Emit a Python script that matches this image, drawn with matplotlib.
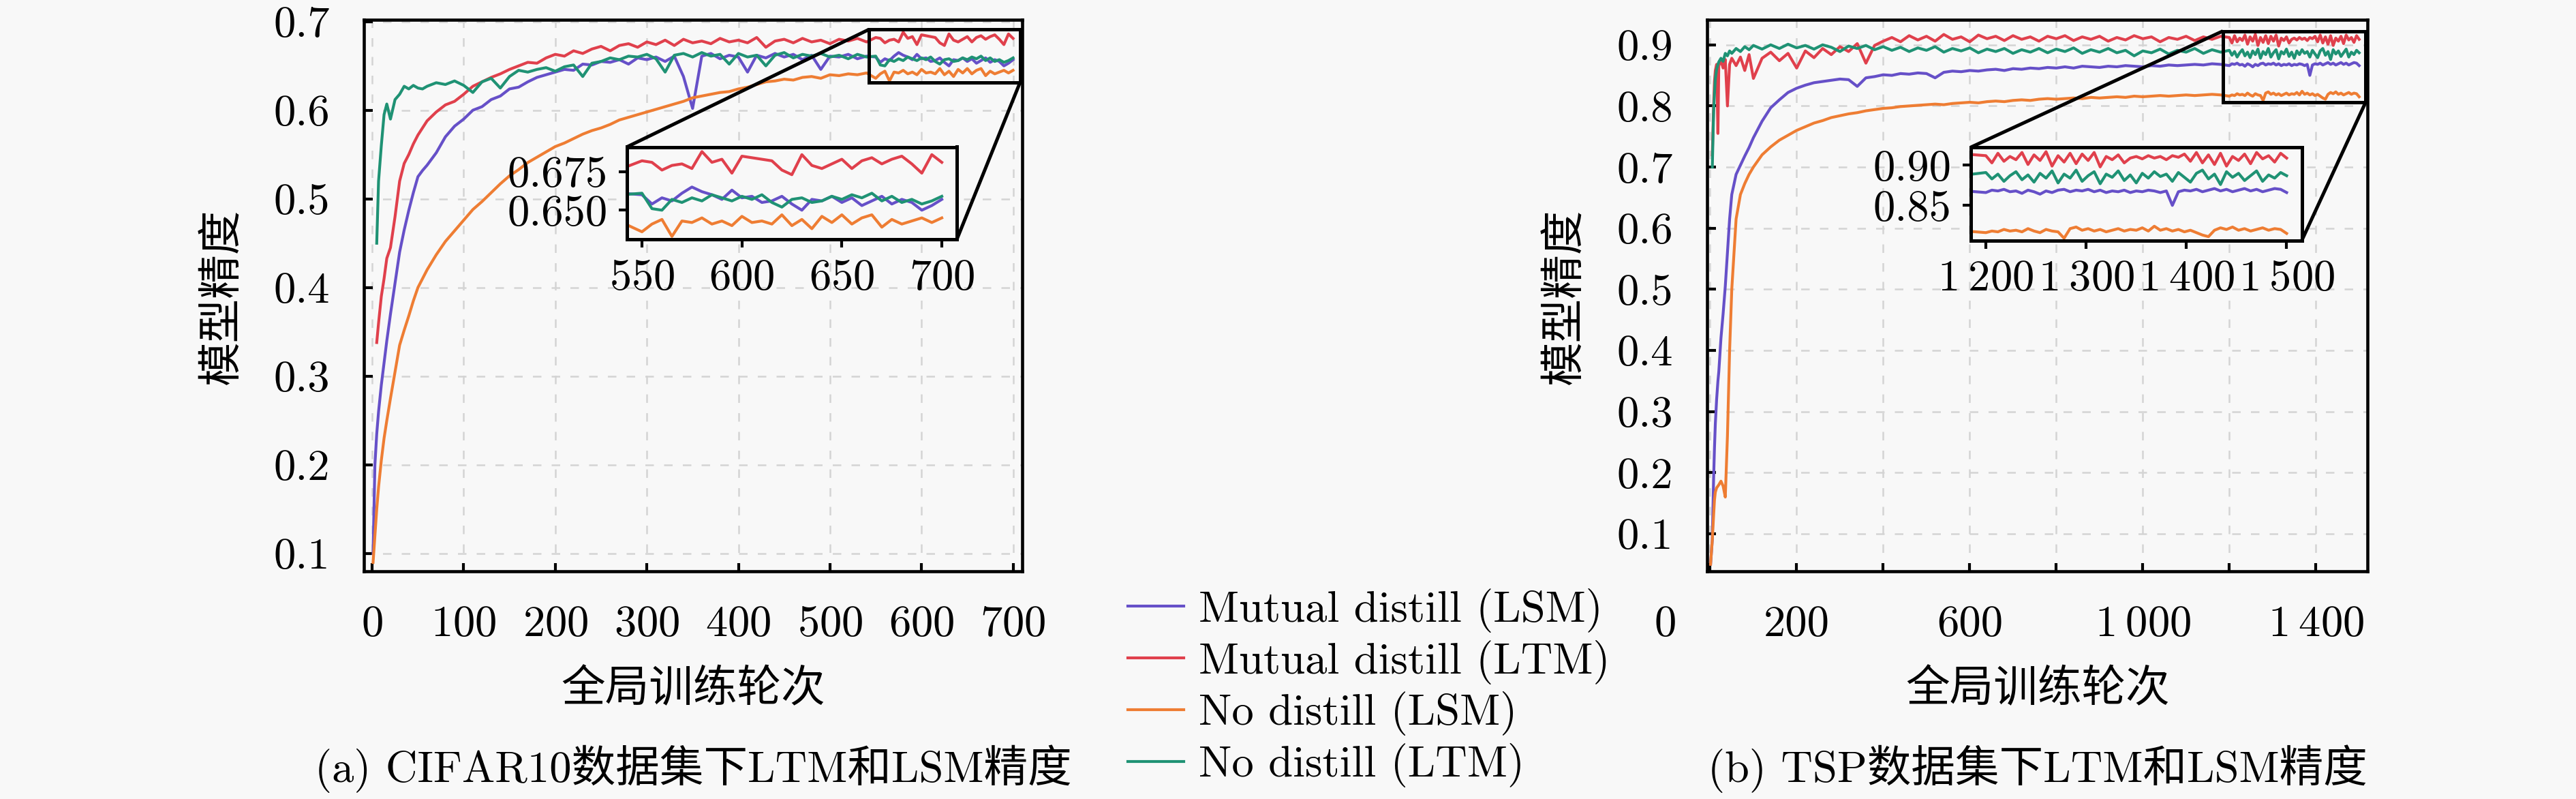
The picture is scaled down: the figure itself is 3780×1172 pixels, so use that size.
import matplotlib
matplotlib.use("Agg")
import matplotlib.pyplot as plt
from matplotlib.transforms import ScaledTranslation
from mpl_toolkits.axes_grid1.inset_locator import mark_inset

nan = float('nan')

plt.rcParams['font.family'] = ['cmr10', 'Noto Sans CJK SC']
plt.rcParams['mathtext.fontset'] = 'cm'
plt.rcParams['axes.formatter.use_mathtext'] = True
plt.rcParams['font.size'] = 15.5

labels = ['Mutual distill (LSM)', 'Mutual distill (LTM)', 'No distill (LSM)', 'No distill (LTM)']
colors = ['#6650c8', '#e0404c', '#ee7d33', '#1f9274']

# (a) CIFAR10
ep_a = [1, 3, 5, 7, 10, 13, 16, 20, 25, 30, 35, 40, 45, 50, 55] + list(range(60, 550, 10)) + list(range(550, 701, 5))

mutual_lsm_a = [0.10, 0.20, 0.235, 0.26, 0.29, 0.315, 0.34, 0.37, 0.405, 0.44, 0.465, 0.487, 0.507, 0.525, 0.532,
                0.538, 0.552, 0.57, 0.582, 0.59, 0.60, 0.604, 0.612, 0.616, 0.624,
                0.626, 0.632, 0.637, 0.64, 0.643, 0.646, 0.645, 0.652, 0.651, 0.655,
                0.654, 0.657, 0.652, 0.659, 0.657, 0.66, 0.655, 0.661, 0.638, 0.602,
                0.661, 0.664, 0.658, 0.662, 0.66, 0.643, 0.662, 0.659, 0.664, 0.66,
                0.663, 0.657, 0.662, 0.646, 0.661, 0.66, 0.663, 0.658, 0.661,
                0.660, 0.654, 0.658, 0.656, 0.661, 0.665, 0.662, 0.660, 0.657, 0.663,
                0.658, 0.659, 0.655, 0.656, 0.659, 0.654, 0.650, 0.657, 0.656, 0.659,
                0.655, 0.658, 0.653, 0.656, 0.659, 0.654, 0.657, 0.655, 0.650, 0.653, 0.657]

mutual_ltm_a = [nan, nan, 0.338, 0.36, 0.39, 0.41, 0.433, 0.445, 0.48, 0.52, 0.54, 0.55, 0.562, 0.572, 0.58,
                0.588, 0.598, 0.606, 0.61, 0.618, 0.627, 0.632, 0.637, 0.641, 0.646,
                0.65, 0.654, 0.653, 0.659, 0.663, 0.661, 0.667, 0.664, 0.669, 0.672,
                0.667, 0.673, 0.675, 0.671, 0.677, 0.674, 0.679, 0.673, 0.68, 0.676,
                0.678, 0.675, 0.681, 0.677, 0.679, 0.676, 0.682, 0.671, 0.678, 0.68,
                0.676, 0.681, 0.677, 0.679, 0.675, 0.68, 0.678, 0.681, 0.677,
                0.682, 0.681, 0.676, 0.679, 0.680, 0.677, 0.688, 0.681, 0.683, 0.674,
                0.685, 0.684, 0.683, 0.682, 0.676, 0.673, 0.686, 0.679, 0.677, 0.680,
                0.683, 0.677, 0.682, 0.684, 0.680, 0.683, 0.685, 0.680, 0.674, 0.686, 0.681]

no_lsm_a = [0.09, 0.12, 0.15, 0.175, 0.205, 0.23, 0.25, 0.275, 0.305, 0.335, 0.352, 0.368, 0.385, 0.40, 0.41,
            0.42, 0.437, 0.452, 0.464, 0.476, 0.488, 0.497, 0.507, 0.517, 0.526,
            0.533, 0.541, 0.547, 0.553, 0.559, 0.563, 0.568, 0.573, 0.577, 0.58,
            0.584, 0.589, 0.592, 0.595, 0.598, 0.601, 0.604, 0.607, 0.61, 0.614,
            0.616, 0.618, 0.62, 0.621, 0.624, 0.626, 0.629, 0.632, 0.633, 0.635,
            0.634, 0.637, 0.638, 0.636, 0.64, 0.639, 0.641, 0.64, 0.642,
            0.636, 0.641, 0.644, 0.633, 0.643, 0.642, 0.645, 0.641, 0.643, 0.640,
            0.646, 0.642, 0.643, 0.641, 0.647, 0.640, 0.644, 0.638, 0.646, 0.642,
            0.647, 0.641, 0.645, 0.647, 0.639, 0.644, 0.641, 0.643, 0.645, 0.642, 0.645]

no_ltm_a = [nan, nan, 0.45, 0.52, 0.56, 0.595, 0.607, 0.59, 0.612, 0.618, 0.627, 0.624, 0.628, 0.625, 0.624,
            0.627, 0.631, 0.629, 0.633, 0.628, 0.62, 0.632, 0.636, 0.625, 0.638,
            0.645, 0.643, 0.646, 0.648, 0.644, 0.649, 0.651, 0.638, 0.653, 0.655,
            0.659, 0.657, 0.661, 0.66, 0.663, 0.658, 0.643, 0.662, 0.664, 0.66,
            0.665, 0.661, 0.663, 0.652, 0.664, 0.66, 0.662, 0.65, 0.662, 0.665,
            0.659, 0.663, 0.661, 0.664, 0.66, 0.662, 0.658, 0.663, 0.66,
            0.661, 0.651, 0.650, 0.657, 0.655, 0.658, 0.656, 0.660, 0.658, 0.656,
            0.659, 0.657, 0.660, 0.655, 0.652, 0.657, 0.658, 0.655, 0.656, 0.659,
            0.657, 0.660, 0.658, 0.661, 0.656, 0.659, 0.655, 0.657, 0.654, 0.656, 0.659]

# (b) TSP
ep_b = [1, 3, 5, 8, 10, 12, 15, 18, 20, 25, 30, 35, 40, 45, 50, 60, 70, 80, 90, 100] + list(range(120, 1200, 20)) + list(range(1200, 1501, 6))

mutual_lsm_b = [0.05, 0.07, 0.09, 0.19, 0.24, 0.28, 0.32, 0.35, 0.365, 0.42, 0.46, 0.505, 0.56, 0.615, 0.655, 0.688, 0.703, 0.718, 0.732, 0.748,
                0.775, 0.797, 0.81, 0.822, 0.829, 0.834, 0.838, 0.84, 0.842, 0.844,
                0.843, 0.832, 0.846, 0.848, 0.851, 0.85, 0.853, 0.852, 0.854, 0.853,
                0.846, 0.855, 0.857, 0.856, 0.858, 0.857, 0.859, 0.86, 0.858, 0.861,
                0.86, 0.862, 0.861, 0.863, 0.862, 0.864, 0.862, 0.865, 0.864, 0.863,
                0.865, 0.864, 0.866, 0.865, 0.864, 0.866, 0.865, 0.867, 0.866, 0.867,
                0.868, 0.867, 0.869, 0.868,
                0.866, 0.869, 0.868, 0.870, 0.867, 0.868, 0.865, 0.869, 0.867, 0.864,
                0.868, 0.866, 0.869, 0.870, 0.867, 0.869, 0.868, 0.870, 0.867, 0.869,
                0.866, 0.868, 0.867, 0.869, 0.866, 0.868, 0.867, 0.869, 0.868, 0.866,
                0.868, 0.850, 0.867, 0.869, 0.868, 0.870, 0.867, 0.869, 0.871, 0.868,
                0.870, 0.867, 0.869, 0.871, 0.868, 0.870, 0.867, 0.869, 0.871, 0.870, 0.866]

mutual_ltm_b = [nan, nan, 0.72, 0.80, 0.84, 0.858, 0.868, 0.755, 0.866, 0.874, 0.862, 0.876, 0.80, 0.868, 0.878, 0.866, 0.88, 0.858, 0.884, 0.845,
                0.878, 0.888, 0.874, 0.886, 0.862, 0.89, 0.879, 0.894, 0.884, 0.897,
                0.889, 0.902, 0.87, 0.899, 0.906, 0.912, 0.905, 0.915, 0.908, 0.914,
                0.906, 0.917, 0.909, 0.913, 0.905, 0.916, 0.91, 0.914, 0.907, 0.915,
                0.909, 0.913, 0.906, 0.914, 0.91, 0.915, 0.907, 0.913, 0.909, 0.914,
                0.906, 0.912, 0.908, 0.915, 0.91, 0.913, 0.905, 0.912, 0.909, 0.914,
                0.907, 0.913, 0.909, 0.914,
                0.912, 0.903, 0.915, 0.905, 0.911, 0.907, 0.916, 0.901, 0.913, 0.906,
                0.917, 0.899, 0.912, 0.904, 0.915, 0.902, 0.914, 0.906, 0.916, 0.898,
                0.911, 0.907, 0.913, 0.903, 0.909, 0.911, 0.908, 0.912, 0.909, 0.911,
                0.907, 0.912, 0.910, 0.914, 0.905, 0.916, 0.903, 0.913, 0.901, 0.915,
                0.899, 0.911, 0.906, 0.914, 0.902, 0.916, 0.908, 0.912, 0.904, 0.915, 0.909]

no_lsm_b = [0.05, 0.07, 0.09, 0.13, 0.155, 0.168, 0.175, 0.178, 0.18, 0.186, 0.178, 0.16, 0.26, 0.40, 0.50, 0.615, 0.655, 0.673, 0.688, 0.70,
            0.72, 0.733, 0.744, 0.752, 0.76, 0.766, 0.772, 0.776, 0.781, 0.784,
            0.787, 0.789, 0.792, 0.794, 0.796, 0.797, 0.799, 0.8, 0.801, 0.802,
            0.803, 0.802, 0.804, 0.805, 0.806, 0.805, 0.807, 0.808, 0.807, 0.809,
            0.81, 0.809, 0.811, 0.812, 0.811, 0.812, 0.813, 0.812, 0.814, 0.813,
            0.814, 0.815, 0.814, 0.816, 0.815, 0.816, 0.817, 0.816, 0.817, 0.818,
            0.817, 0.818, 0.819, 0.818,
            0.816, 0.818, 0.817, 0.820, 0.818, 0.819, 0.817, 0.821, 0.818, 0.816,
            0.820, 0.818, 0.817, 0.809, 0.821, 0.823, 0.819, 0.821, 0.818, 0.820,
            0.817, 0.819, 0.821, 0.818, 0.820, 0.819, 0.822, 0.818, 0.824, 0.819,
            0.821, 0.818, 0.820, 0.817, 0.819, 0.816, 0.813, 0.811, 0.819, 0.822,
            0.820, 0.823, 0.819, 0.821, 0.818, 0.820, 0.822, 0.819, 0.821, 0.820, 0.815]

no_ltm_b = [nan, nan, 0.70, 0.79, 0.82, 0.845, 0.86, 0.868, 0.872, 0.878, 0.873, 0.886, 0.882, 0.89, 0.886, 0.894, 0.889, 0.897, 0.892, 0.899,
            0.893, 0.9, 0.894, 0.901, 0.895, 0.899, 0.893, 0.9, 0.896, 0.889,
            0.898, 0.894, 0.899, 0.892, 0.897, 0.891, 0.896, 0.889, 0.895, 0.891,
            0.897, 0.888, 0.894, 0.89, 0.895, 0.887, 0.893, 0.889, 0.894, 0.886,
            0.892, 0.888, 0.894, 0.887, 0.893, 0.889, 0.895, 0.886, 0.892, 0.888,
            0.894, 0.887, 0.891, 0.882, 0.89, 0.887, 0.893, 0.885, 0.891, 0.888,
            0.894, 0.886, 0.892, 0.888,
            0.891, 0.883, 0.889, 0.880, 0.887, 0.892, 0.882, 0.888, 0.879, 0.890,
            0.884, 0.893, 0.878, 0.889, 0.884, 0.894, 0.880, 0.887, 0.892, 0.877,
            0.889, 0.885, 0.893, 0.881, 0.888, 0.878, 0.890, 0.884, 0.892, 0.886,
            0.889, 0.880, 0.891, 0.885, 0.879, 0.890, 0.894, 0.883, 0.889, 0.876,
            0.892, 0.885, 0.890, 0.881, 0.887, 0.893, 0.880, 0.888, 0.884, 0.891, 0.887]

series_a = [mutual_lsm_a, mutual_ltm_a, no_lsm_a, no_ltm_a]
series_b = [mutual_lsm_b, mutual_ltm_b, no_lsm_b, no_ltm_b]

bg = '#f8f8f8'
W, H = 3780, 1172
fig = plt.figure(figsize=(W / 300, H / 300), dpi=300, facecolor=bg)


def px_axes(x0, y0, x1, y1):
    return fig.add_axes([x0 / W, 1 - y1 / H, (x1 - x0) / W, (y1 - y0) / H])


def style_main(ax):
    ax.set_facecolor(bg)
    for s in ax.spines.values():
        s.set_linewidth(1.1)
    ax.tick_params(direction='in', length=3, width=1.0, pad=12, labelsize=15.5)
    ax.grid(True, color='#d4d4d4', lw=0.6, ls=(0, (5, 6)))
    ax.set_axisbelow(True)


def style_inset(ax):
    ax.set_facecolor(bg)
    for s in ax.spines.values():
        s.set_linewidth(1.2)
    ax.tick_params(direction='out', length=2.8, width=1.0, pad=4, labelsize=15.5)


ax_a = px_axes(534, 29, 1500, 838)
ax_b = px_axes(2505, 29, 3474.5, 838)
in_a = px_axes(920, 215.5, 1404, 351.3)
in_b = px_axes(2892, 216, 3377.5, 353)

handles = []
for vals, c, lab in zip(series_a, colors, labels):
    h, = ax_a.plot(ep_a, vals, color=c, lw=1.0, label=lab)
    handles.append(h)
    in_a.plot(ep_a, vals, color=c, lw=1.0)
for vals, c in zip(series_b, colors):
    ax_b.plot(ep_b, vals, color=c, lw=1.0)
    in_b.plot(ep_b, vals, color=c, lw=1.0)

style_main(ax_a)
ax_a.set_xlim(-9, 710)
ax_a.set_ylim(0.08, 0.702)
ax_a.set_xticks(range(0, 701, 100))
ax_a.set_yticks([0.1, 0.2, 0.3, 0.4, 0.5, 0.6, 0.7])
ax_a.set_yticklabels(['0.1', '0.2', '0.3', '0.4', '0.5', '0.6', '0.7'])

style_main(ax_b)
ax_b.set_xlim(-7, 1520)
ax_b.set_ylim(0.0385, 0.941)
ax_b.set_xticks(range(0, 1401, 200))
ax_b.set_xticklabels(['0', '200', '', '600', '', r'$1\:000$', '', r'$1\:400$'])
ax_b.set_yticks([0.1, 0.2, 0.3, 0.4, 0.5, 0.6, 0.7, 0.8, 0.9])
ax_b.set_yticklabels(['0.1', '0.2', '0.3', '0.4', '0.5', '0.6', '0.7', '0.8', '0.9'])
lab0 = ax_b.get_xticklabels()[0]
lab0.set_transform(lab0.get_transform() + ScaledTranslation(-66 / 300, 0, fig.dpi_scale_trans))

style_inset(in_a)
in_a.set_xlim(542.5, 707.5)
in_a.set_ylim(0.631, 0.691)
in_a.set_xticks([550, 600, 650, 700])
in_a.set_yticks([0.650, 0.675])
in_a.set_yticklabels(['0.650', '0.675'])

style_inset(in_b)
in_b.set_xlim(1185, 1515)
in_b.set_ylim(0.806, 0.9225)
in_b.set_xticks([1200, 1300, 1400, 1500])
in_b.set_xticklabels([r'$1\:200$', r'$1\:300$', r'$1\:400$', r'$1\:500$'])
in_b.set_yticks([0.85, 0.90])
in_b.set_yticklabels(['0.85', '0.90'])

for parent, child in [(ax_a, in_a), (ax_b, in_b)]:
    rect, c1, c2 = mark_inset(parent, child, loc1=2, loc2=4, fc='none', ec='k', lw=1.2)
    for p in (rect, c1, c2):
        p.set_zorder(5)

# axis labels and captions
for cx in [1017 / W, 2990 / W]:
    fig.text(cx, 1 - 1012 / H, '全局训练轮次', ha='center', va='center', fontsize=15.5)
fig.text(327 / W, 1 - 435 / H, '模型精度', rotation=90, ha='center', va='center', fontsize=15.5)
fig.text(2297 / W, 1 - 435 / H, '模型精度', rotation=90, ha='center', va='center', fontsize=15.5)
fig.text(1017 / W, 1 - 1128 / H, '(a) CIFAR10数据集下LTM和LSM精度', ha='center', va='center', fontsize=15.5)
fig.text(2990 / W, 1 - 1128 / H, '(b) TSP数据集下LTM和LSM精度', ha='center', va='center', fontsize=15.5)

fig.legend(handles, labels, loc='center left', bbox_to_anchor=(1655 / W, 1 - 1009 / H),
           frameon=False, borderpad=0, borderaxespad=0, handlelength=1.27,
           handletextpad=0.34, labelspacing=0.17, fontsize=15.5)

fig.savefig('out.png', dpi=300, facecolor=bg)
